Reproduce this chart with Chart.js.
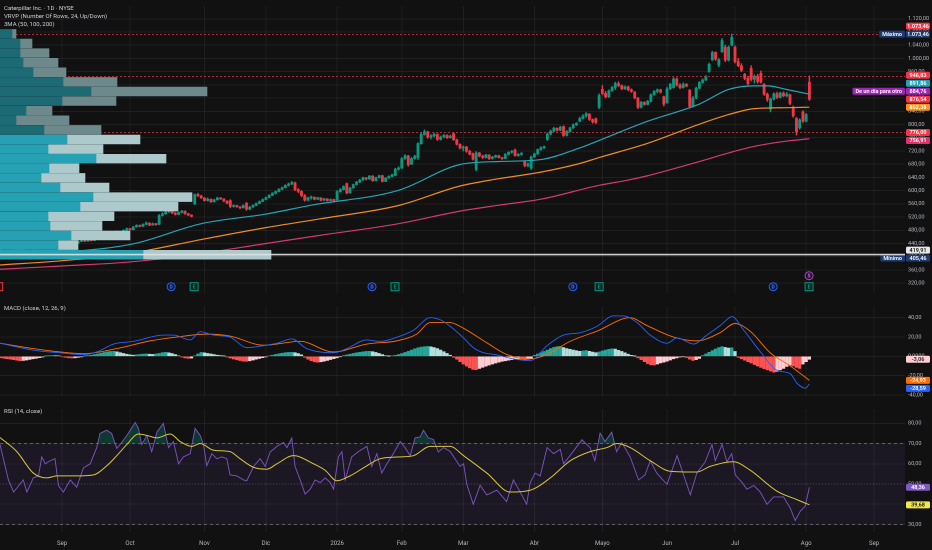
<!DOCTYPE html>
<html>
<head>
<meta charset="utf-8">
<script src="https://cdn.jsdelivr.net/npm/chart.js@4.4.1/dist/chart.umd.min.js"></script>
<style>
  html,body{margin:0;padding:0;background:#111111;}
  body{width:932px;height:550px;position:relative;overflow:hidden;font-family:Roboto,"Noto Sans",sans-serif;}
  canvas{position:absolute;left:0;}
  .lg{position:absolute;left:4px;font-size:6px;line-height:7px;color:#c9ccd4;white-space:nowrap;z-index:5;}
</style>
</head>
<body>
<canvas id="cPrice" width="932" height="300" style="top:0"></canvas>
<canvas id="cVrvp" width="905" height="300" style="top:0"></canvas>
<canvas id="cMacd" width="932" height="103" style="top:300px"></canvas>
<canvas id="cRsi" width="932" height="147" style="top:403px"></canvas>
<div class="lg" style="top:4px">Caterpillar Inc. · 1D · NYSE</div>
<div class="lg" style="top:12px">VRVP (Number Of Rows, 24, Up/Down)</div>
<div class="lg" style="top:20px">3MA (50, 100, 200)</div>
<div class="lg" style="top:304px">MACD (close, 12, 26, 9)</div>
<div class="lg" style="top:407px">RSI (14, close)</div>
<script>
// ---------------- DATA ----------------
const monthLabels = ['Sep','Oct','Nov','Dic','2026','Feb','Mar','Abr','Mayo','Jun','Jul','Ago','Sep'];
const monthIdx    = [0,21,44,63,85,105,124,146,167,187,208,230,251];
const firstIdx = -19;   // trading-day index of first candle

const opens = [
420,418,412,408,415,420,425,422,428,432,
429,424,427,431,434,430,426,429,433,436,
438,434,440,444,441,446,450,447,452,449,
455,460,457,463,468,465,472,476,474,480,
485,482,490,495,492,498,502,496,500,498,
525,530,536,540,532,528,534,538,530,526,
560,588,584,578,570,574,566,572,578,575,
568,570,552,555,551,548,562,544,550,555,
561,567,573,579,586,592,597,604,609,616,
620,624,603,598,585,571,578,580,574,578,
571,575,570,573,572,597,603,621,593,608,
618,626,632,639,635,644,630,639,645,628,
638,643,646,665,668,697,705,680,697,700,
742,770,778,762,766,770,755,762,767,760,
772,754,740,729,732,719,712,665,714,705,
700,708,697,702,706,700,697,710,716,723,
706,710,688,676,668,702,711,724,730,755,
771,780,789,783,794,767,779,790,799,810,
818,826,832,815,818,852,906,894,884,902,
912,924,918,908,914,905,898,880,852,867,
861,870,890,900,905,884,866,908,912,938,
919,912,922,904,855,880,910,927,935,960,
996,1018,980,1020,1034,995,1040,1034,990,978,
952,940,970,937,946,955,922,892,846,877,
893,882,895,887,890,852,818,790,838,810,928];
const highs = [
424,420,414,417,422,427,427,430,434,433,
430,429,433,436,435,431,431,435,438,441,
439,442,446,445,448,452,451,454,453,457,
462,461,465,470,469,474,478,477,482,487,
486,492,497,496,500,505,503,502,501,528,
533,538,542,541,534,536,540,539,531,527,
590,592,586,579,578,575,574,580,579,576,
570,573,557,556,552,557,564,553,557,563,
569,575,581,588,594,599,606,611,618,623,
628,626,606,600,588,580,584,581,580,579,
577,576,575,574,600,606,615,623,610,620,
628,634,641,640,646,646,641,647,647,640,
645,650,668,672,700,709,707,700,707,745,
775,784,780,770,774,772,765,770,769,768,
775,756,742,735,734,722,714,718,716,707,
710,709,704,708,707,701,712,718,722,726,
712,715,690,684,705,714,726,733,735,774,
783,792,790,795,796,782,792,802,806,822,
830,836,833,817,820,893,918,900,905,915,
928,930,920,917,916,908,900,882,870,869,
873,893,903,908,907,886,913,925,942,941,
924,926,924,906,885,913,930,938,948,986,
1022,1020,1000,1060,1040,1038,1073.46,1038,1000,984,
955,946,978,950,952,962,924,895,880,896,
898,898,899,897,892,856,822,818,842,834,946.83];
const lows = [
414,409,405.46,407,413,418,419,421,426,427,
422,423,426,429,428,424,425,428,431,434,
432,433,439,439,440,445,445,446,447,448,
454,455,456,462,463,464,471,471,473,479,
480,481,489,490,491,497,494,495,495,497,
523,528,534,530,526,527,532,528,524,520,
558,582,576,568,568,564,565,571,573,566,
560,548,550,549,545,547,540,542,549,554,
560,566,572,578,585,590,596,602,608,614,
618,600,594,582,568,569,574,572,573,569,
570,568,569,566,571,595,602,590,592,607,
617,624,631,632,634,628,629,638,626,627,
637,641,645,662,667,694,674,679,695,694,
740,768,758,756,762,752,753,760,758,759,
752,738,726,720,716,708,692,660,702,697,
698,694,695,700,698,694,696,708,713,704,
704,707,672,672,664,700,709,722,727,752,
769,778,780,781,764,765,777,788,797,808,
816,822,812,804,803,848,890,880,882,900,
906,915,905,906,902,897,878,848,850,858,
859,868,888,896,895,856,864,906,910,916,
908,910,914,850,853,878,908,925,933,958,
994,994,975,1018,990,992,1038,986,975,960,
935,920,932,926,925,925,888,870,838,874,
878,880,884,884,860,822,768,786,806,808,873];
const closes = [
418,412,408,415,420,425,422,428,432,429,
424,427,431,434,430,426,429,433,436,438,
434,440,444,441,446,450,447,452,449,455,
460,457,463,468,465,472,476,474,480,485,
482,490,495,492,498,502,496,500,497,525,
530,536,540,532,528,534,538,530,526,522,
588,584,578,570,574,566,572,578,575,568,
562,552,555,551,548,555,544,550,555,561,
567,573,579,586,592,597,604,609,616,620,
624,603,598,585,571,578,580,574,578,571,
575,570,573,569,597,603,612,593,608,618,
626,632,639,635,644,630,639,645,628,638,
643,648,665,668,697,705,678,697,704,742,
770,778,762,766,770,755,762,767,760,765,
754,740,729,732,719,710,695,714,705,700,
708,697,702,706,700,697,710,716,719,706,
710,712,676,681,702,711,724,730,733,771,
780,789,783,792,767,779,790,799,804,818,
826,833,815,808,806,888,894,884,902,912,
924,918,908,914,905,900,881,852,867,861,
870,890,900,905,898,862,908,922,938,919,
912,922,916,855,880,910,927,935,944,982,
1018,998,996,1054,995,1034,1064,990,978,964,
940,924,937,946,930,928,892,876,877,893,
882,895,887,892,864,826,778,814,810,830,876.54];

const ma50Idx  = [-19.2,0,22,43,63,77,104,123,135,148,160,166,181,197,206,214,218,224,231];
const ma50Val  = [400,413,439,500,529,556,601,679,688,694,729,752,810,862,906,917,917,906,891.86];
const ma100Idx = [-19.2,0,22,43,63,80,104,123,135,148,160,166,181,197,206,214,224,231];
const ma100Val = [375,388,412,452,488,515,555,614,636,656,682,700,743,801,830,848,851,852.38];
const ma200Idx = [-19.2,0,22,43,63,80,104,123,135,148,166,175,181,197,206,214,224,231];
const ma200Val = [362,372,385,410,440,465,500,538,556,574,616,632,645,688,714,734,750,756.91];

// Volume profile (24 rows, bottom -> top), arbitrary volume units
const vpLow = 405.46, vpHigh = 1073.46;
const vpUp   = [143,58,71,50,48,80,93,60,41,49,96,48,67,44,16,26,62,91,63,33,23,20,20,12];
const vpDown = [128,20,59,52,66,98,99,49,44,30,70,55,73,57,53,26,54,116,54,33,35,29,12,4];
const vpValueAreaTopRow = 12;

const dashedLevels = [1073.46, 946.83, 776.00];
const whiteLevel = 419.91;

const priceTagValues = [876.54, 884.76, 891.86, 852.38, 946.83, 1073.46, 1073.46, 776.00, 756.91, 419.91, 405.46];
const priceTagNames  = [null, 'De un día para otro', null, null, null, 'Máximo', null, null, null, null, 'Mínimo'];

const divIdx = [33.7, 95.8, 157.9, 219.8];
const earnIdx = [40.8, 102.9, 166, 230.9];
const earnMissIdx = [-19.6];
const splitIdx = [230.9];

const macdIdx = [-19.2,-8.9,-0.6,6.6,10.7,15.9,22.1,31.3,34.4,39.6,42.7,46.8,51.9,57.1,62.2,66.4,71,75.6,83.9,88,94.2,98.3,104.5,108.6,113.8,116.8,120,124.1,127.1,130,134.4,139.5,144.7,149.9,155,160.2,165.3,170.5,173.6,177.7,181.8,187,190.1,195.2,199.3,203.5,207.1,210.7,215.9,221,225.1,227.2,229.8,231];
const macdVal = [13.6,6.4,3.6,1.8,4.5,12.7,15.5,22,22,17,25.5,22,20,9,11,13.6,18,8,3.6,8,17,15.5,21,27,40,38,31,19,9,4,1.5,-2.7,-4.5,11,22,24.5,31,42,41.8,35,22,13.6,19,12.7,22,32,41,27,4.5,-14.5,-18,-28,-33,-28.59];
const sigIdx = [-19.2,-8.9,-0.6,6.6,16.9,27.2,35.4,44.7,51.9,62.2,73.6,83.9,94.2,103.4,109.6,113.8,119.9,124.1,131.3,137.4,144.7,149.9,157,165.3,175.6,180.7,189,196.2,203.4,208,212.7,218.9,225.1,231];
const sigVal = [13.6,8,4.5,2.7,8,16,20,23,21,11.5,15.5,4.5,12.7,16,23,35,35,29,14,2,-2.7,2,15.5,26,40,32,20,16,24.5,34,26,3.6,-10,-24.93];
const hist = [
-1.5,-2,-2.5,-3,-3.5,-4,-4.5,
-4.2,-3.8,-3.2,-2.6,-2,-1.4,-0.8,
0.3,0.6,0.8,0.7,0.5,
-0.5,-1,-1.5,-1.8,-1.5,-1,-0.6,
0.3,0.8,1.2,1.8,2.5,
3.2,4,4.6,5,5.2,
4.6,3.8,3,2.2,1.6,1.2,
1.5,2,2.3,2.5,2.2,2,2.4,
3,3.8,4.2,3.6,2.8,1.8,
0.5,-0.8,-1.6,-2,-1.8,
0.5,2.5,4,3.6,
3,2.4,1.8,1.2,0.8,0.3,
-0.8,-1.8,-2.8,-3.6,-4.4,-5,-5.2,-4.6,
-3.8,-3,-2.2,-1.4,-0.6,
0.5,1.2,2,2.6,3.2,3.7,4,4.2,3.8,
2.8,1.5,
-1,-3,-4.5,-5.6,-6,-5.6,-5,-4.2,-3.3,-2.4,-1.5,
-0.4,0.8,1.4,2.2,3,3.6,4.2,4.6,5,5.2,4.8,4,3,
1.8,0.6,0.2,0.5,1,
1.8,2.8,4,5.2,6.5,7.8,8.8,9.6,10,10.2,9.8,9,8,6.5,
4.8,3,1.2,
-1,-3,-5.5,-8,-10,-12,-13.5,-13.8,
-12.5,-11.4,-10.2,-9,-8,-7,-6,-5.2,-4.6,-4,-3.5,
-3,-2.8,-3.2,-3.4,-3,-2,
1,2.5,3.8,5,
6.5,8,9.2,10,10.2,
9,8,7.2,6.5,5.8,5.2,
5.6,5.9,5.2,4.4,3.8,
4.5,5.5,6.5,7.2,7.8,7.5,
6.2,5,3.6,2.2,1,0.2,
-1.5,-3.5,-5.5,-7.5,-8.8,-9,
-8,-6.8,-6,-5,-3.8,
-2.6,-1.6,-0.8,-0.4,-1.2,
-3,-4.2,-3.4,-2.2,
0.8,2.5,4.2,6,7.6,9,10,
9.2,8.5,8.8,5,
-1,-2.5,-4,-5.5,-7,-8.5,-10,-11.5,-12.8,-14,-15.2,-16.4,
-15.5,-14,-12.5,-10.5,-9,
-10,-11.5,-12.5,-8,
-5.5,-3.06];
const macdTagValues = [-3.06, -24.93, -28.59];

const rsiIdx = [-19.2,-17.6,-16.6,-15,-13.5,-12,-10.9,-8.9,-7.3,-6.3,-5.2,-3.7,-2.2,-1.1,0.4,2.5,4.5,6.6,8.7,10.7,11.7,13.8,15.3,16.9,18.4,20,22.6,23.6,24.6,26.2,27.7,29.3,31.3,32.9,34.4,36,37.5,39.6,41.1,42.7,43.7,44.7,46.3,47.8,49.4,50.9,51.9,54,56.1,57.1,59.2,61.2,62.8,64.3,66.4,68.4,69.5,71,72,73.6,75.1,76.7,78.2,79.8,81.3,82.9,83.9,85.4,86.5,87.5,89.5,91.6,94.2,95.7,97.3,98.8,100.4,102.4,104.5,106,107.6,109.1,110.7,111.7,113.2,114.8,116.3,117.9,120,123,124.1,125.1,127.1,129.2,131.3,134.4,137.4,139.5,141.6,143.6,144.7,146.2,147.8,149.9,151.9,154,155,157,160.7,163.2,164.7,166.3,167.8,169.9,171.4,173,175.6,178.2,180.2,181.8,183.8,187,190.1,192.1,194.2,196.2,198.8,200.9,201.9,204,205.5,207,208.1,210.2,211.7,213.8,215.8,217.9,219.9,223,225.1,226.6,228.2,229.7,231];
const rsiVal = [69.5,58.7,52,46,49,52,46,53,54,63.4,60,61.5,62.5,49,46,52,48.4,58,60,68,75,76.6,75,67.6,70.5,74,80.4,77.5,69.5,74,66,75.6,80,68,71,60,63.4,65,77.5,74,69.5,59,65,62.5,63.4,62.5,54.5,54,52,51.6,58.7,62.5,58.7,65.8,68.6,70.5,68,72.8,58.7,52,45,47.4,52,50.7,53,50.7,47.4,63.4,66,52,63.4,66,68.6,58.7,65,55.4,60,65,71,68,64,72.8,73.3,76.6,72.8,72,65.8,68,66,58.7,60,49.8,39.9,49.3,44.6,46.9,41.3,52,46,39.9,50.7,55.4,54,68,65,67.2,60,64,71.9,68,61.5,75.2,71,75.6,66,70.5,63.4,52,54.5,61.5,55.4,49.8,64,54.5,44.6,55.4,61,69.5,61.5,69.5,61,65,54.5,50.7,47.4,49.3,46,39.9,43.6,43.6,38,31.9,36.6,39,48.36];
const rsiMaIdx = [-19.2,-14,-8.9,-4.7,-1.6,4.5,9.7,13.8,16.9,20,23.6,26.2,29.3,33.4,36.5,40.1,42.7,46.8,51.9,55,59.2,63.3,66.4,71.5,77.7,81.3,84.9,89,94.2,98.3,104.5,108.6,113.8,119.9,124.1,131.3,138.5,144.7,150.9,157.1,163.2,168.4,171.5,175.6,181.8,188,196.2,200.3,207.5,212.7,220.9,227.2,231];
const rsiMaVal = [73,66,55.4,53,54,54,54.5,59,64,69.5,74.7,74,72.8,74.7,71,68.6,70,66.7,66,62.5,58.2,57.3,60,64,60,56.8,51.6,54,59,62.5,63.4,64,68.6,68.6,64,55.4,46,46.9,53,61.5,66,68,70,68,61.5,56.3,55.9,58.7,61,56.8,46.5,42.2,39.68];
const rsiTagValues = [48.36, 39.68];

// ---------------- STYLE / LAYOUT ----------------
const PLOT_W = 905, AXIS_W = 27, PX_PER_DAY = 3.235;
const xMin = -19.2, xMax = xMin + PLOT_W / PX_PER_DAY;
const priceMin = 288.1, priceMax = 1157.7;
const macdMin = -41.8, macdMax = 51.8;
const rsiMin = 26.24, rsiMax = 86.94;
const GREEN = '#089981', RED = '#f23645';
const GRID = 'rgba(255,255,255,0.06)';
const TICK = '#b7bac2';
const FONT = 'Roboto, "Noto Sans", sans-serif';
Chart.defaults.font.family = FONT;

const priceTagBg = ['#f23645','#9c27b0','#1fa3b5','#f7931a','#f23645','#1e3a6e','#f23645','#f23645','#e0336e','#e6e6e6','#1e3a6e'];
const priceTagFg = ['#fff','#fff','#fff','#fff','#fff','#fff','#fff','#fff','#fff','#111','#fff'];
const macdTagBg = ['#ffcdd2','#ff6d00','#2962ff'];
const macdTagFg = ['#222','#fff','#fff'];
const rsiTagBg = ['#7e57c2','#f2e64a'];
const rsiTagFg = ['#fff','#111'];

function fmt(v, d = 2) {
  const s = Math.abs(v).toFixed(d);
  let [i, f] = s.split('.');
  i = i.replace(/\B(?=(\d{3})+(?!\d))/g, '.');
  return (v < 0 ? '-' : '') + i + ',' + f;
}
const pts = (xs, ys) => xs.map((x, i) => ({x, y: ys[i]}));

function xCfg(showLabels) {
  return {
    type: 'linear', min: xMin, max: xMax, offset: false, bounds: 'data',
    afterBuildTicks(s) { s.ticks = monthIdx.map(v => ({value: v})); },
    ticks: {display: showLabels, autoSkip: false, maxRotation: 0, color: TICK, font: {size: 6}, padding: 8,
            callback: (v, i) => monthLabels[i]},
    grid: {color: GRID, drawTicks: false, offset: false},
    border: {display: false},
    afterFit(s) { s.height = showLabels ? 18 : 0; }
  };
}
function yCfg(min, max, step, cb) {
  return {
    type: 'linear', position: 'right', min, max, offset: false, bounds: 'data', beginAtZero: false,
    afterBuildTicks(s) {
      const t = [];
      for (let v = Math.ceil(min / step) * step; v <= max; v += step) t.push({value: v});
      s.ticks = t;
    },
    ticks: {autoSkip: false, color: TICK, font: {size: 5.5}, padding: 3, callback: cb},
    grid: {color: GRID, drawTicks: false},
    border: {display: false},
    afterFit(s) { s.width = AXIS_W; }
  };
}
const baseOpts = {
  responsive: false, animation: false, devicePixelRatio: 2,
  layout: {padding: 0},
  plugins: {legend: {display: false}, tooltip: {enabled: false}}
};

function drawTags(chart, scaleId, values, bgs, fgs, names) {
  const ctx = chart.ctx, s = chart.scales[scaleId], ca = chart.chartArea, h = 8;
  const placed = [];
  ctx.save();
  ctx.font = '600 5.5px ' + FONT;
  ctx.textBaseline = 'middle';
  ctx.textAlign = 'center';
  values.forEach((v, k) => {
    let y = s.getPixelForValue(v);
    for (let it = 0; it < 12; it++) {
      const hit = placed.find(p => Math.abs(y - p.y) < h - 0.01);
      if (!hit) break;
      y = v >= hit.v ? hit.y - h : hit.y + h;
    }
    placed.push({v, y});
    const x0 = ca.right + 1, w = 24;
    ctx.fillStyle = bgs[k];
    ctx.beginPath(); ctx.roundRect(x0, y - h / 2 + 0.5, w, h - 1, 1.5); ctx.fill();
    ctx.fillStyle = fgs[k];
    ctx.fillText(fmt(v), x0 + w / 2, y + 0.3);
    const name = names && names[k];
    if (name) {
      const tw = ctx.measureText(name).width + 6;
      ctx.fillStyle = bgs[k];
      ctx.beginPath(); ctx.roundRect(ca.right - tw, y - h / 2 + 0.5, tw, h - 1, 1.5); ctx.fill();
      ctx.fillStyle = '#fff';
      ctx.fillText(name, ca.right - tw / 2, y + 0.3);
    }
  });
  ctx.restore();
}

// ---------------- PRICE ----------------
const candleIdx = closes.map((_, i) => firstIdx + i);
const candleCol = closes.map((c, i) => c >= opens[i] ? GREEN : RED);

const pricePlugin = {
  id: 'priceDeco',
  beforeDatasetsDraw(chart) {
    const ctx = chart.ctx, ca = chart.chartArea, y = chart.scales.y;
    ctx.save();
    ctx.strokeStyle = 'rgba(242,54,69,0.7)'; ctx.lineWidth = 1; ctx.setLineDash([2, 2]);
    dashedLevels.forEach(v => { const p = Math.round(y.getPixelForValue(v)) + 0.5;
      ctx.beginPath(); ctx.moveTo(ca.left, p); ctx.lineTo(ca.right, p); ctx.stroke(); });
    ctx.restore();
  },
  afterDraw(chart) {
    const ctx = chart.ctx, xs = chart.scales.x, ca = chart.chartArea;
    const yb = ca.bottom - 7;
    ctx.save();
    ctx.lineWidth = 1; ctx.font = 'bold 5px ' + FONT; ctx.textAlign = 'center'; ctx.textBaseline = 'middle';
    divIdx.forEach(v => { const x = xs.getPixelForValue(v);
      ctx.beginPath(); ctx.arc(x, yb, 4, 0, Math.PI * 2); ctx.fillStyle = '#0c1330'; ctx.fill();
      ctx.strokeStyle = '#2962ff'; ctx.stroke(); ctx.fillStyle = '#4d7dff'; ctx.fillText('D', x, yb + 0.3); });
    const sq = (v, col, fill) => { const x = xs.getPixelForValue(v);
      ctx.fillStyle = fill; ctx.fillRect(x - 4, yb - 4, 8, 8);
      ctx.strokeStyle = col; ctx.strokeRect(x - 4, yb - 4, 8, 8); ctx.fillStyle = col; ctx.fillText('E', x, yb + 0.3); };
    earnIdx.forEach(v => sq(v, GREEN, '#07201b'));
    earnMissIdx.forEach(v => sq(v, RED, '#2a0c10'));
    splitIdx.forEach(v => { const x = xs.getPixelForValue(v), y2 = yb - 11;
      ctx.beginPath(); ctx.arc(x, y2, 4, 0, Math.PI * 2); ctx.fillStyle = '#240b2c'; ctx.fill();
      ctx.strokeStyle = '#ab47bc'; ctx.stroke(); ctx.fillStyle = '#c06fd0'; ctx.fillText('S', x, y2 + 0.3); });
    ctx.restore();
    drawTags(chart, 'y', priceTagValues, priceTagBg, priceTagFg, priceTagNames);
  }
};

new Chart(document.getElementById('cPrice'), {
  type: 'bar',
  data: {datasets: [
    {type: 'line', data: pts(ma50Idx, ma50Val), borderColor: '#2aa3b7', borderWidth: 1.2, pointRadius: 0, cubicInterpolationMode: 'monotone'},
    {type: 'line', data: pts(ma100Idx, ma100Val), borderColor: '#ef8d1f', borderWidth: 1.2, pointRadius: 0, cubicInterpolationMode: 'monotone'},
    {type: 'line', data: pts(ma200Idx, ma200Val), borderColor: '#d43a72', borderWidth: 1.2, pointRadius: 0, cubicInterpolationMode: 'monotone'},
    {type: 'bar', data: candleIdx.map((x, i) => ({x, y: [opens[i], closes[i]]})), backgroundColor: candleCol,
     barThickness: 2.2, minBarLength: 1, grouped: false},
    {type: 'bar', data: candleIdx.map((x, i) => ({x, y: [lows[i], highs[i]]})), backgroundColor: candleCol,
     barThickness: 0.8, grouped: false}
  ]},
  options: Object.assign({}, baseOpts, {
    scales: {x: xCfg(false), y: yCfg(priceMin, priceMax, 40, v => fmt(v))}
  }),
  plugins: [pricePlugin]
});

// ---------------- VOLUME PROFILE OVERLAY ----------------
const vpStep = (vpHigh - vpLow) / vpUp.length;
const vpMid = vpUp.map((_, k) => vpLow + vpStep * (k + 0.5));
const vpPlugin = {
  id: 'vpLine',
  afterDatasetsDraw(chart) {
    const ctx = chart.ctx, ca = chart.chartArea, p = chart.scales.y.getPixelForValue(whiteLevel);
    ctx.save(); ctx.strokeStyle = 'rgba(225,225,225,0.9)'; ctx.lineWidth = 1.6;
    ctx.beginPath(); ctx.moveTo(ca.left, p); ctx.lineTo(ca.right, p); ctx.stroke(); ctx.restore();
  }
};
new Chart(document.getElementById('cVrvp'), {
  type: 'bar',
  data: {datasets: [
    {data: vpMid.map((y, k) => ({y, x: vpUp[k]})),
     backgroundColor: vpMid.map((_, k) => k <= vpValueAreaTopRow ? '#26a1b3' : '#1c6b74'),
     barThickness: 8.8, grouped: false},
    {data: vpMid.map((y, k) => ({y, x: [vpUp[k], vpUp[k] + vpDown[k]]})),
     backgroundColor: vpMid.map((_, k) => k <= vpValueAreaTopRow ? '#adc9cc' : '#6d898c'),
     barThickness: 8.8, grouped: false}
  ]},
  options: Object.assign({}, baseOpts, {
    indexAxis: 'y',
    scales: {
      x: {type: 'linear', display: false, min: 0, max: PLOT_W, offset: false, bounds: 'data'},
      y: {type: 'linear', display: false, min: priceMin, max: priceMax, offset: false, bounds: 'data'}
    }
  }),
  plugins: [vpPlugin]
});

// ---------------- MACD ----------------
const histIdx = hist.map((_, i) => firstIdx + i);
const histCol = hist.map((v, i) => {
  const prev = i > 0 ? hist[i - 1] : v;
  if (v >= 0) return v >= prev ? '#26a69a' : '#b2dfdb';
  return v <= prev ? '#ff5252' : '#ffcdd2';
});
new Chart(document.getElementById('cMacd'), {
  type: 'bar',
  data: {datasets: [
    {type: 'line', data: pts(macdIdx, macdVal), borderColor: '#2962ff', borderWidth: 0.9, pointRadius: 0, cubicInterpolationMode: 'monotone'},
    {type: 'line', data: pts(sigIdx, sigVal), borderColor: '#ff6d00', borderWidth: 0.9, pointRadius: 0, cubicInterpolationMode: 'monotone'},
    {type: 'bar', data: histIdx.map((x, i) => ({x, y: hist[i]})), backgroundColor: histCol, barThickness: 2.6, grouped: false}
  ]},
  options: Object.assign({}, baseOpts, {
    scales: {x: xCfg(false), y: yCfg(macdMin, macdMax, 20, v => v === 0 ? '0,0000' : fmt(v))}
  }),
  plugins: [{id: 'macdTags', afterDraw(chart) { drawTags(chart, 'y', macdTagValues, macdTagBg, macdTagFg, null); }}]
});

// ---------------- RSI ----------------
const rsiPlugin = {
  id: 'rsiBand',
  beforeDatasetsDraw(chart) {
    const ctx = chart.ctx, ca = chart.chartArea, y = chart.scales.y;
    const y70 = y.getPixelForValue(70), y30 = y.getPixelForValue(30), y50 = y.getPixelForValue(50);
    ctx.save();
    ctx.fillStyle = 'rgba(126,87,194,0.10)';
    ctx.fillRect(ca.left, y70, ca.right - ca.left, y30 - y70);
    ctx.strokeStyle = 'rgba(140,143,154,0.6)'; ctx.lineWidth = 1; ctx.setLineDash([3, 3]);
    [y70, y30].forEach(p => { ctx.beginPath(); ctx.moveTo(ca.left, p); ctx.lineTo(ca.right, p); ctx.stroke(); });
    ctx.strokeStyle = 'rgba(140,143,154,0.25)'; ctx.setLineDash([1, 2]);
    ctx.beginPath(); ctx.moveTo(ca.left, y50); ctx.lineTo(ca.right, y50); ctx.stroke();
    ctx.restore();
  },
  afterDraw(chart) { drawTags(chart, 'y', rsiTagValues, rsiTagBg, rsiTagFg, null); }
};
new Chart(document.getElementById('cRsi'), {
  type: 'line',
  data: {datasets: [
    {data: pts(rsiMaIdx, rsiMaVal), borderColor: '#d9c83a', borderWidth: 1, pointRadius: 0, cubicInterpolationMode: 'monotone', fill: false},
    {data: pts(rsiIdx, rsiVal), borderColor: '#7e57c2', borderWidth: 0.9, pointRadius: 0, tension: 0,
     fill: {target: {value: 70}, above: 'rgba(8,153,129,0.30)', below: 'rgba(0,0,0,0)'}}
  ]},
  options: Object.assign({}, baseOpts, {
    scales: {x: xCfg(true), y: yCfg(rsiMin, rsiMax, 10, v => fmt(v))}
  }),
  plugins: [rsiPlugin]
});
</script>
</body>
</html>
